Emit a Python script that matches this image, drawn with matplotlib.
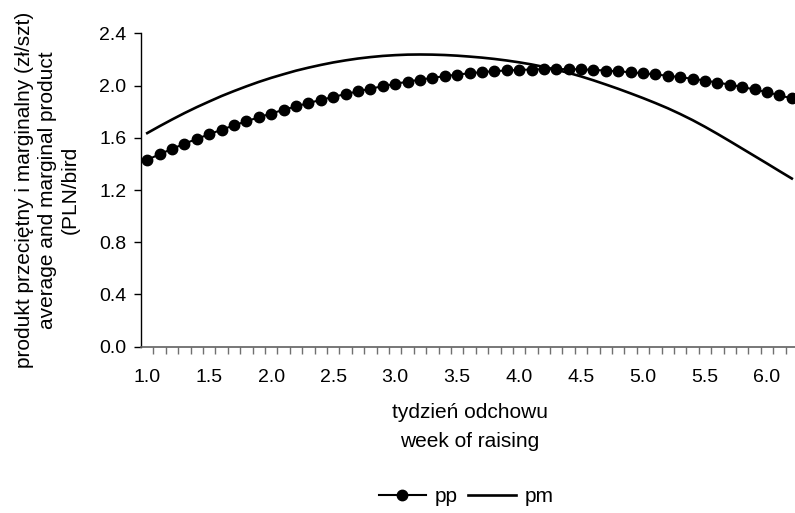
import numpy as np
import matplotlib.pyplot as plt
from matplotlib.ticker import FixedLocator

plt.rcParams['font.family'] = ['Liberation Sans', 'DejaVu Sans']

# --- dane ---
week = [round(1.0 + 0.1 * i, 1) for i in range(53)]
pp = [1.431, 1.474, 1.515, 1.554, 1.592, 1.627, 1.662, 1.695, 1.727, 1.757,
      1.786, 1.814, 1.841, 1.866, 1.890, 1.913, 1.935, 1.956, 1.976, 1.995,
      2.013, 2.030, 2.045, 2.059, 2.072, 2.084, 2.094, 2.103, 2.110, 2.116,
      2.120, 2.123, 2.125, 2.126, 2.126, 2.124, 2.120, 2.115, 2.109, 2.102,
      2.094, 2.085, 2.075, 2.064, 2.052, 2.038, 2.023, 2.007, 1.989, 1.970,
      1.949, 1.926, 1.901]
pm = [1.636, 1.689, 1.740, 1.789, 1.835, 1.878, 1.920, 1.958, 1.994, 2.028,
      2.059, 2.087, 2.114, 2.137, 2.158, 2.177, 2.193, 2.207, 2.218, 2.227,
      2.233, 2.237, 2.238, 2.237, 2.234, 2.229, 2.222, 2.214, 2.204, 2.192,
      2.178, 2.162, 2.143, 2.121, 2.097, 2.070, 2.040, 2.008, 1.975, 1.940,
      1.904, 1.866, 1.826, 1.782, 1.735, 1.684, 1.630, 1.574, 1.517, 1.460,
      1.403, 1.345, 1.288]
x_labels = ['1.0', '1.5', '2.0', '2.5', '3.0', '3.5', '4.0', '4.5', '5.0', '5.5', '6.0']
y_ticks = [0.0, 0.4, 0.8, 1.2, 1.6, 2.0, 2.4]

fig = plt.figure(figsize=(7.95, 5.13), dpi=100)
ax = fig.add_axes([0.1774, 0.3242, 0.8264, 0.6108])

ax.plot(week, pp, color='black', lw=1.5, marker='o', ms=7.5, label='pp')
ax.plot(week, pm, color='black', lw=1.9, label='pm')

ax.set_xlim(0.95, 6.25)
ax.set_ylim(0, 2.4)

# os X jak w Excelu: etykiety co 5 kategorii, kreski miedzy kategoriami
ax.xaxis.set_major_locator(FixedLocator([float(s) for s in x_labels]))
ax.set_xticklabels(x_labels)
ax.xaxis.set_minor_locator(FixedLocator([0.95 + 0.1 * k for k in range(1, 54)]))
ax.tick_params(axis='x', which='major', length=0, pad=16, labelsize=14)
ax.tick_params(axis='x', which='minor', length=5, width=1, color='#707070', direction='out')

ax.set_yticks(y_ticks)
ax.set_yticklabels([f'{v:.1f}' for v in y_ticks])
ax.tick_params(axis='y', length=5, width=1, pad=5.5, labelsize=14)

for s in ['top', 'right']:
    ax.spines[s].set_visible(False)
ax.spines['bottom'].set_color('#606060')
ax.spines['bottom'].set_linewidth(1.2)
ax.spines['left'].set_linewidth(1.0)

ax.set_xlabel('tydzień odchowu\nweek of raising', fontsize=15, labelpad=12, linespacing=1.7)
ax.set_ylabel('produkt przeciętny i marginalny (zł/szt)\naverage and marginal product\n(PLN/bird',
              fontsize=15, labelpad=14, linespacing=1.27)

fig.legend(loc='center', bbox_to_anchor=(466 / 795, 1 - 497 / 513), ncol=2, frameon=False,
           fontsize=15, handlelength=2.3, handletextpad=0.4, columnspacing=0.5)

fig.savefig('out.png', dpi=100)
